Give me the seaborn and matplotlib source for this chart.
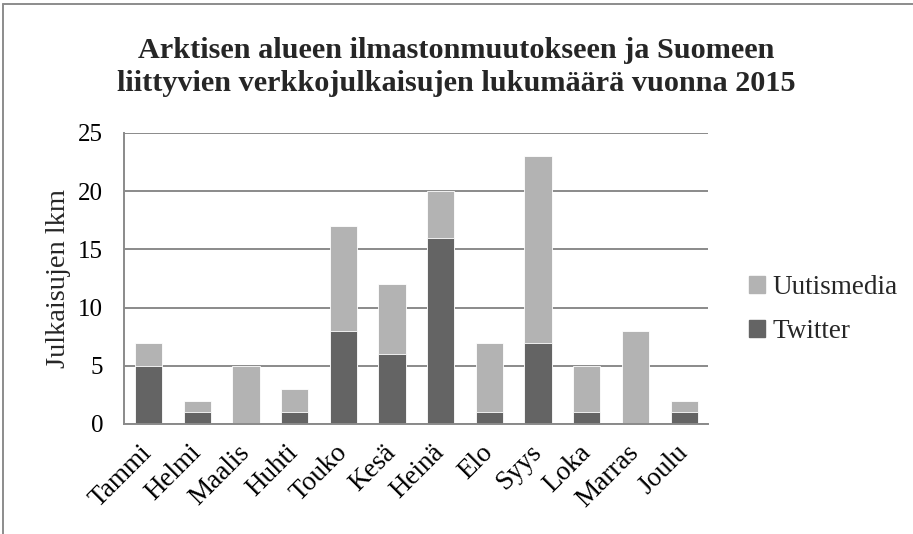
import matplotlib

matplotlib.use("Agg")

import matplotlib.pyplot as plt
import seaborn as sns
import pandas as pd
from matplotlib.lines import Line2D
from matplotlib.patches import Patch

# data
MONTHS = ["Tammi", "Helmi", "Maalis", "Huhti", "Touko", "Kesä",
          "Heinä", "Elo", "Syys", "Loka", "Marras", "Joulu"]
TWITTER = [5, 1, 0, 1, 8, 6, 16, 1, 7, 1, 0, 1]
UUTISMEDIA = [2, 1, 5, 2, 9, 6, 4, 6, 16, 4, 8, 1]

DARK = "#646464"
LIGHT = "#b3b3b3"
GRID = "#8a8a8a"

sns.set_theme(style="white")
plt.rcParams["font.family"] = ["Liberation Serif", "DejaVu Serif"]

df = pd.DataFrame({"kk": MONTHS, "Twitter": TWITTER, "Uutismedia": UUTISMEDIA})
df["yht"] = df["Twitter"] + df["Uutismedia"]

fig = plt.figure(figsize=(9.13, 5.34), dpi=100)
ax = fig.add_axes([0.136, 0.206, 0.640, 0.545])

# stacked bars: total in light grey, Twitter on top in dark grey
sns.barplot(data=df, x="kk", y="yht", color=LIGHT, width=0.56,
            edgecolor="white", linewidth=0.6, saturation=1, ax=ax)
sns.barplot(data=df, x="kk", y="Twitter", color=DARK, width=0.56,
            edgecolor="white", linewidth=0.6, saturation=1, ax=ax)

ax.set_ylim(0, 25)
ax.set_xlim(-0.5, len(MONTHS) - 0.5)
ax.set_yticks([0, 5, 10, 15, 20, 25])
ax.yaxis.grid(True, color=GRID, linewidth=1.4)
ax.set_axisbelow(True)
for side in ["top", "right"]:
    ax.spines[side].set_visible(False)
for side in ["left", "bottom"]:
    ax.spines[side].set_color(GRID)
    ax.spines[side].set_linewidth(1.4)

ax.tick_params(axis="y", length=0, labelsize=18, colors="black", pad=15)
ax.tick_params(axis="x", length=0, labelsize=19.5, colors="black", pad=18)
plt.setp(ax.get_xticklabels(), rotation=45, ha="right", va="center",
         rotation_mode="anchor")
ax.set_xlabel("")
ax.set_ylabel("Julkaisujen lkm", fontsize=20.5, labelpad=5)

fig.text(0.5, 0.874,
         "Arktisen alueen ilmastonmuutokseen ja Suomeen\n"
         "liittyvien verkkojulkaisujen lukumäärä vuonna 2015",
         ha="center", va="center", fontsize=21.8, fontweight="bold",
         linespacing=1.3)

handles = [Patch(color=LIGHT, label="Uutismedia"),
           Patch(color=DARK, label="Twitter")]
fig.legend(handles=handles, loc="center left", bbox_to_anchor=(0.805, 0.42),
           frameon=False, fontsize=19.5, handlelength=0.6, handleheight=0.6,
           handletextpad=0.3, labelspacing=0.7, borderpad=0)

# outer frame of the chart object (top and left visible)
fig.add_artist(Line2D([0.003, 1.0], [0.993, 0.993], transform=fig.transFigure,
                      color="#8c8c8c", linewidth=1.4))
fig.add_artist(Line2D([0.003, 0.003], [0.0, 0.993], transform=fig.transFigure,
                      color="#8c8c8c", linewidth=1.4))

fig.savefig("out.png", dpi=100)
